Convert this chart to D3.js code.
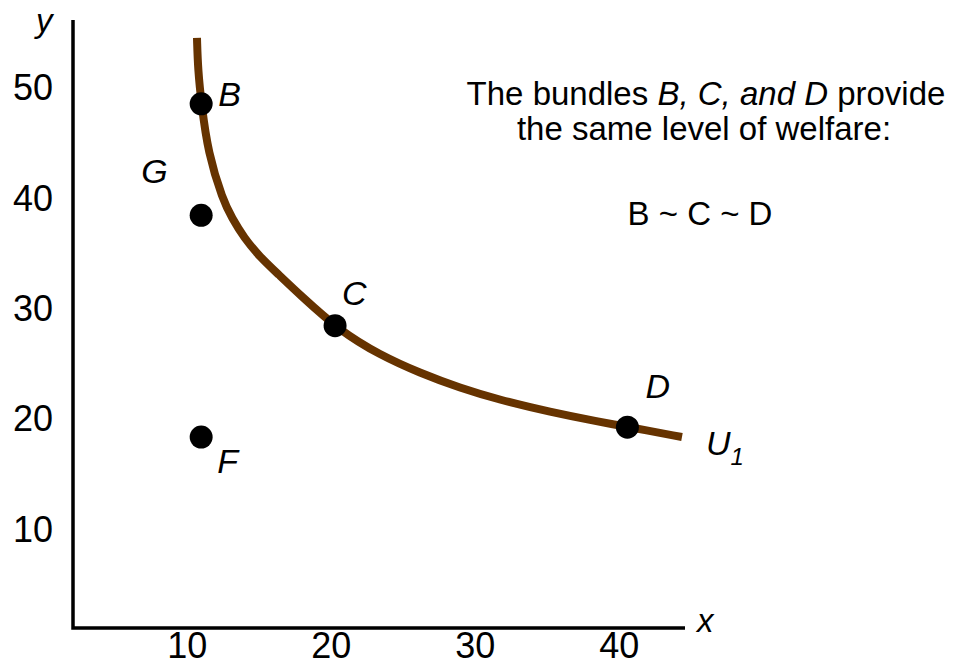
<!DOCTYPE html>
<html>
<head>
<meta charset="utf-8">
<script src="https://cdn.jsdelivr.net/npm/d3@7"></script>
<style>
  body { margin: 0; background: #fff; }
  text { font-family: "Liberation Sans", Arial, sans-serif; fill: #000; }
</style>
</head>
<body>
<script>
// data
var xTicks = [10, 20, 30, 40];
var yTicks = [10, 20, 30, 40, 50];

// indifference curve U1 (x, y)
var curveX = [10.71, 10.78, 11.02, 11.48, 12.50, 13.14, 13.98, 15.09, 16.34, 17.87, 20.64, 23.42, 26.19, 28.98, 31.75, 35.22, 38.7, 40.64, 44.39];
var curveY = [54.57, 51.67, 48.59, 44.15, 39.89, 38.26, 36.45, 34.72, 33.18, 31.28, 28.02, 25.84, 24.21, 22.85, 21.76, 20.68, 19.77, 19.32, 18.41];

// bundles
var bundleNames = ['B', 'G', 'F', 'C', 'D'];
var bundleX = [11.0, 11.0, 11.0, 20.3, 40.6];
var bundleY = [48.6, 38.5, 18.4, 28.5, 19.3];

var W = 956, H = 660;
var svg = d3.select('body').append('svg')
  .attr('width', W).attr('height', H);

// scales (axis corner at data (2.1, 1.1))
var x = d3.scaleLinear().domain([2.1, 44.6]).range([73, 685]);
var y = d3.scaleLinear().domain([1.1, 56.2]).range([628, 20]);

// axis lines
svg.append('path')
  .attr('d', 'M' + x(2.1) + ',' + y(56.2) + 'V' + y(1.1) + 'H' + x(44.6))
  .attr('fill', 'none')
  .attr('stroke', '#000')
  .attr('stroke-width', 3.5);

// tick labels through d3 axes, no tick marks
var xa = svg.append('g')
  .attr('transform', 'translate(0,' + y(1.1) + ')')
  .call(d3.axisBottom(x).tickValues(xTicks).tickSize(0).tickPadding(4));
var ya = svg.append('g')
  .attr('transform', 'translate(' + x(2.1) + ',0)')
  .call(d3.axisLeft(y).tickValues(yTicks).tickSize(0).tickPadding(20));
[xa, ya].forEach(function (g) {
  g.select('.domain').remove();
  g.selectAll('text')
    .style('font-family', '"Liberation Sans", Arial, sans-serif')
    .style('font-size', '36px')
    .attr('fill', '#000');
});

// axis names
svg.append('text').attr('x', 36).attr('y', 32)
  .style('font-size', '33px').style('font-style', 'italic').text('y');
svg.append('text').attr('x', 697).attr('y', 632)
  .style('font-size', '33px').style('font-style', 'italic').text('x');

// the curve
var pts = curveX.map(function (v, i) { return [v, curveY[i]]; });
var line = d3.line()
  .x(function (d) { return x(d[0]); })
  .y(function (d) { return y(d[1]); })
  .curve(d3.curveBasis);
svg.append('path')
  .datum(pts)
  .attr('d', line)
  .attr('fill', 'none')
  .attr('stroke', '#663300')
  .attr('stroke-width', 8);

// U1 label
var u = svg.append('text').attr('x', 706).attr('y', 455)
  .style('font-size', '34px').style('font-style', 'italic');
u.append('tspan').text('U');
u.append('tspan').attr('dy', 10).style('font-size', '24px').text('1');

// bundle dots
var bundles = bundleNames.map(function (n, i) { return { name: n, x: bundleX[i], y: bundleY[i] }; });
svg.selectAll('circle.bundle')
  .data(bundles)
  .enter().append('circle')
  .attr('class', 'bundle')
  .attr('cx', function (d) { return x(d.x); })
  .attr('cy', function (d) { return y(d.y); })
  .attr('r', 11.5)
  .attr('fill', '#000');

// bundle labels, offset from each dot
var labelOff = { B: [17, 2], G: [-60, -32], F: [16, 36], C: [7, -21], D: [18, -29] };
svg.selectAll('text.blabel')
  .data(bundles)
  .enter().append('text')
  .attr('class', 'blabel')
  .attr('x', function (d) { return x(d.x) + labelOff[d.name][0]; })
  .attr('y', function (d) { return y(d.y) + labelOff[d.name][1]; })
  .style('font-size', '34px')
  .style('font-style', 'italic')
  .text(function (d) { return d.name; });

// annotation
var note = svg.append('text').attr('x', 706).attr('y', 105)
  .attr('text-anchor', 'middle').style('font-size', '33px');
note.append('tspan').text('The bundles ');
note.append('tspan').style('font-style', 'italic').text('B, C, and D');
note.append('tspan').text(' provide');
svg.append('text').attr('x', 704).attr('y', 140)
  .attr('text-anchor', 'middle').style('font-size', '33px')
  .text('the same level of welfare:');
svg.append('text').attr('x', 700).attr('y', 225)
  .attr('text-anchor', 'middle').style('font-size', '33px')
  .text('B ~ C ~ D');
</script>
</body>
</html>
